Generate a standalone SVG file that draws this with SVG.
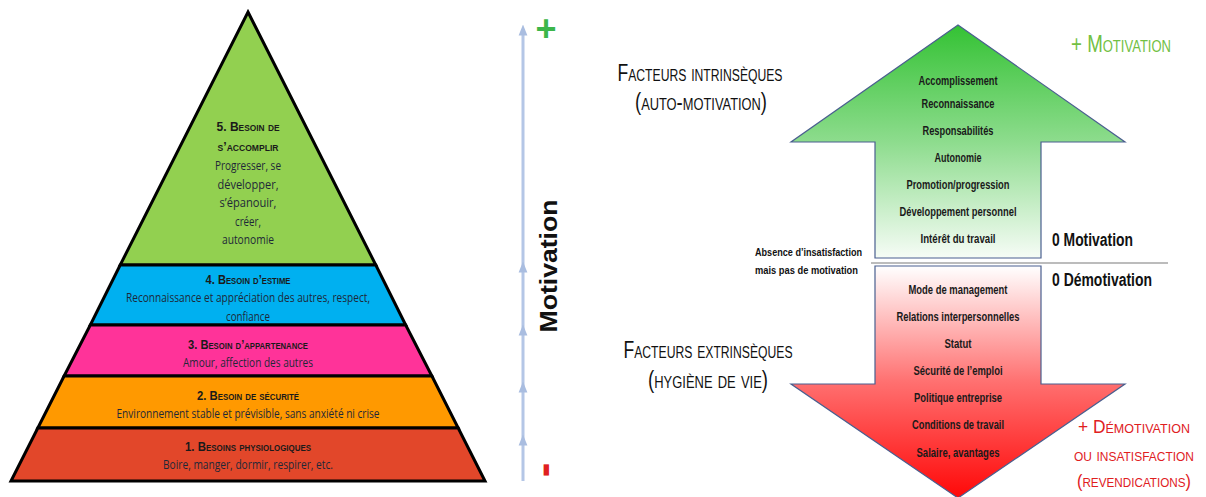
<svg xmlns="http://www.w3.org/2000/svg" width="1206" height="497" viewBox="0 0 1206 497">
<defs>
<linearGradient id="gUp" x1="0" y1="25" x2="0" y2="258" gradientUnits="userSpaceOnUse">
<stop offset="0" stop-color="#34c234"/>
<stop offset="0.5" stop-color="#8ddc8d"/>
<stop offset="1" stop-color="#f6fcf6"/>
</linearGradient>
<linearGradient id="gDown" x1="0" y1="266" x2="0" y2="498" gradientUnits="userSpaceOnUse">
<stop offset="0" stop-color="#ffffff"/>
<stop offset="0.5" stop-color="#ff7070"/>
<stop offset="1" stop-color="#ff0808"/>
</linearGradient>
<marker id="ah" viewBox="0 0 10 10" refX="5" refY="5" markerWidth="11" markerHeight="11" markerUnits="userSpaceOnUse" orient="auto">
<path d="M0,1 L10,5 L0,9 Z" fill="#a9bde0"/>
</marker>
</defs>
<style>
.band{stroke:#000;stroke-width:3;stroke-linejoin:miter}
.hd{font-family:"Liberation Sans",Arial,sans-serif;font-variant:small-caps;font-weight:bold;font-size:13px;fill:#1a1a1a;text-anchor:middle}
.bd{font-family:"Open Sans","Liberation Sans",sans-serif;font-size:12px;fill:#1e2838;text-anchor:middle}
.ar{font-family:"Liberation Sans",Arial,sans-serif;font-weight:bold;font-size:12.5px;fill:#1a1a1a;text-anchor:middle}
.ttl{font-family:"Liberation Sans",Arial,sans-serif;font-variant:small-caps;font-size:23px;fill:#111;text-anchor:middle}
.red{fill:#e0201e;font-size:18px}
.zero{font-family:"Liberation Sans",Arial,sans-serif;font-weight:bold;font-size:18px;fill:#111}
.note{font-family:"Liberation Sans",Arial,sans-serif;font-weight:bold;font-size:11.5px;fill:#111}
.arrow{stroke:#4a5f8f;stroke-width:1.2}
</style>
<rect width="1206" height="497" fill="#ffffff"/>

<g id="level5">
<polygon class="band" points="248,12 375.8,265 120.2,265" fill="#92d050"/>
<text class="hd" x="248" y="131" textLength="63" lengthAdjust="spacingAndGlyphs">5. Besoin de</text>
<text class="hd" x="248" y="151" textLength="61" lengthAdjust="spacingAndGlyphs">s’accomplir</text>
<text class="bd" x="248" y="170" textLength="66" lengthAdjust="spacingAndGlyphs">Progresser, se</text>
<text class="bd" x="248" y="189" textLength="61" lengthAdjust="spacingAndGlyphs">développer,</text>
<text class="bd" x="248" y="207" textLength="57" lengthAdjust="spacingAndGlyphs">s’épanouir,</text>
<text class="bd" x="248" y="226" textLength="26" lengthAdjust="spacingAndGlyphs">créer,</text>
<text class="bd" x="248" y="244" textLength="52" lengthAdjust="spacingAndGlyphs">autonomie</text>
</g>
<g id="level4">
<polygon class="band" points="120.2,265 375.8,265 405.7,325 90.3,325" fill="#00b0f0"/>
<text class="hd" x="248" y="284" textLength="85" lengthAdjust="spacingAndGlyphs">4. Besoin d’estime</text>
<text class="bd" x="248" y="302" textLength="244" lengthAdjust="spacingAndGlyphs">Reconnaissance et appréciation des autres, respect,</text>
<text class="bd" x="248" y="321" textLength="44" lengthAdjust="spacingAndGlyphs">confiance</text>
</g>
<g id="level3">
<polygon class="band" points="90.3,325 405.7,325 431.9,376 64.1,376" fill="#ff3399"/>
<text class="hd" x="248" y="349" textLength="120" lengthAdjust="spacingAndGlyphs">3. Besoin d’appartenance</text>
<text class="bd" x="248" y="367" textLength="130" lengthAdjust="spacingAndGlyphs">Amour, affection des autres</text>
</g>
<g id="level2">
<polygon class="band" points="64.1,376 431.9,376 458.2,428 37.8,428" fill="#ff9900"/>
<text class="hd" x="248" y="400" textLength="102" lengthAdjust="spacingAndGlyphs">2. Besoin de sécurité</text>
<text class="bd" x="248" y="418" textLength="263" lengthAdjust="spacingAndGlyphs">Environnement stable et prévisible, sans anxiété ni crise</text>
</g>
<g id="level1">
<polygon class="band" points="37.8,428 458.2,428 485,481 11,481" fill="#e2472a"/>
<text class="hd" x="248" y="451" textLength="126" lengthAdjust="spacingAndGlyphs">1. Besoins physiologiques</text>
<text class="bd" x="248" y="469" textLength="170" lengthAdjust="spacingAndGlyphs">Boire, manger, dormir, respirer, etc.</text>
</g>

<g id="connectors">
<polyline points="523,481 523,440 523,387 523,330 523,267 523,30" fill="none" stroke="#b4c6e6" stroke-width="3" marker-mid="url(#ah)" marker-end="url(#ah)"/>
<line x1="871" y1="263" x2="1168" y2="263" stroke="#a6a6a6" stroke-width="1.5"/>
</g>

<g id="axis-labels">
<text x="546" y="41" font-family="Liberation Sans,Arial,sans-serif" font-weight="bold" font-size="36" fill="#3cb64a" text-anchor="middle">+</text>
<text transform="translate(558,470) rotate(-90)" font-family="Liberation Sans,Arial,sans-serif" font-weight="bold" font-size="44" fill="#e02020" text-anchor="middle">-</text>
<text transform="translate(557,266) rotate(-90)" font-family="Liberation Sans,Arial,sans-serif" font-weight="bold" font-size="24" fill="#111" text-anchor="middle" textLength="133" lengthAdjust="spacingAndGlyphs">Motivation</text>
</g>

<g id="intrinsic-arrow">
<path class="arrow" d="M958,25 L1125,142 L1041,142 L1041,258 L875,258 L875,142 L791,142 Z" fill="url(#gUp)"/>
<text class="ar" x="958" y="85" textLength="79" lengthAdjust="spacingAndGlyphs">Accomplissement</text>
<text class="ar" x="958" y="108" textLength="73" lengthAdjust="spacingAndGlyphs">Reconnaissance</text>
<text class="ar" x="958" y="135" textLength="71" lengthAdjust="spacingAndGlyphs">Responsabilités</text>
<text class="ar" x="958" y="162" textLength="47" lengthAdjust="spacingAndGlyphs">Autonomie</text>
<text class="ar" x="958" y="189" textLength="103" lengthAdjust="spacingAndGlyphs">Promotion/progression</text>
<text class="ar" x="958" y="216" textLength="117" lengthAdjust="spacingAndGlyphs">Développement personnel</text>
<text class="ar" x="958" y="243" textLength="75" lengthAdjust="spacingAndGlyphs">Intérêt du travail</text>
</g>

<g id="extrinsic-arrow">
<path class="arrow" d="M875,266 L1041,266 L1041,384 L1125,384 L958,498 L791,384 L875,384 Z" fill="url(#gDown)"/>
<text class="ar" x="958" y="294" textLength="99" lengthAdjust="spacingAndGlyphs">Mode de management</text>
<text class="ar" x="958" y="321" textLength="123" lengthAdjust="spacingAndGlyphs">Relations interpersonnelles</text>
<text class="ar" x="958" y="348" textLength="27" lengthAdjust="spacingAndGlyphs">Statut</text>
<text class="ar" x="958" y="375" textLength="89" lengthAdjust="spacingAndGlyphs">Sécurité de l’emploi</text>
<text class="ar" x="958" y="402" textLength="88" lengthAdjust="spacingAndGlyphs">Politique entreprise</text>
<text class="ar" x="958" y="429" textLength="92" lengthAdjust="spacingAndGlyphs">Conditions de travail</text>
<text class="ar" x="958" y="457" textLength="83" lengthAdjust="spacingAndGlyphs">Salaire, avantages</text>
</g>

<g id="labels-left">
<text class="ttl" x="700" y="81" textLength="165" lengthAdjust="spacingAndGlyphs">Facteurs intrinsèques</text>
<text class="ttl" x="701" y="110" textLength="132" lengthAdjust="spacingAndGlyphs">(auto-motivation)</text>
<text class="note" x="755" y="256" textLength="107" lengthAdjust="spacingAndGlyphs">Absence d’insatisfaction</text>
<text class="note" x="755" y="274" textLength="103" lengthAdjust="spacingAndGlyphs">mais pas de motivation</text>
<text class="ttl" x="708" y="358" textLength="169" lengthAdjust="spacingAndGlyphs">Facteurs extrinsèques</text>
<text class="ttl" x="708" y="388" textLength="120" lengthAdjust="spacingAndGlyphs">(hygiène de vie)</text>
</g>

<g id="labels-right">
<text class="ttl" x="1121" y="52" style="fill:#72c043" textLength="100" lengthAdjust="spacingAndGlyphs">+ Motivation</text>
<text class="zero" x="1052" y="246" textLength="81" lengthAdjust="spacingAndGlyphs">0 Motivation</text>
<text class="zero" x="1052" y="286" textLength="100" lengthAdjust="spacingAndGlyphs">0 Démotivation</text>
<text class="ttl red" x="1134" y="433" textLength="112" lengthAdjust="spacingAndGlyphs">+ Démotivation</text>
<text class="ttl red" x="1134" y="461" textLength="120" lengthAdjust="spacingAndGlyphs">ou insatisfaction</text>
<text class="ttl red" x="1134" y="487" textLength="114" lengthAdjust="spacingAndGlyphs">(revendications)</text>
</g>
</svg>
